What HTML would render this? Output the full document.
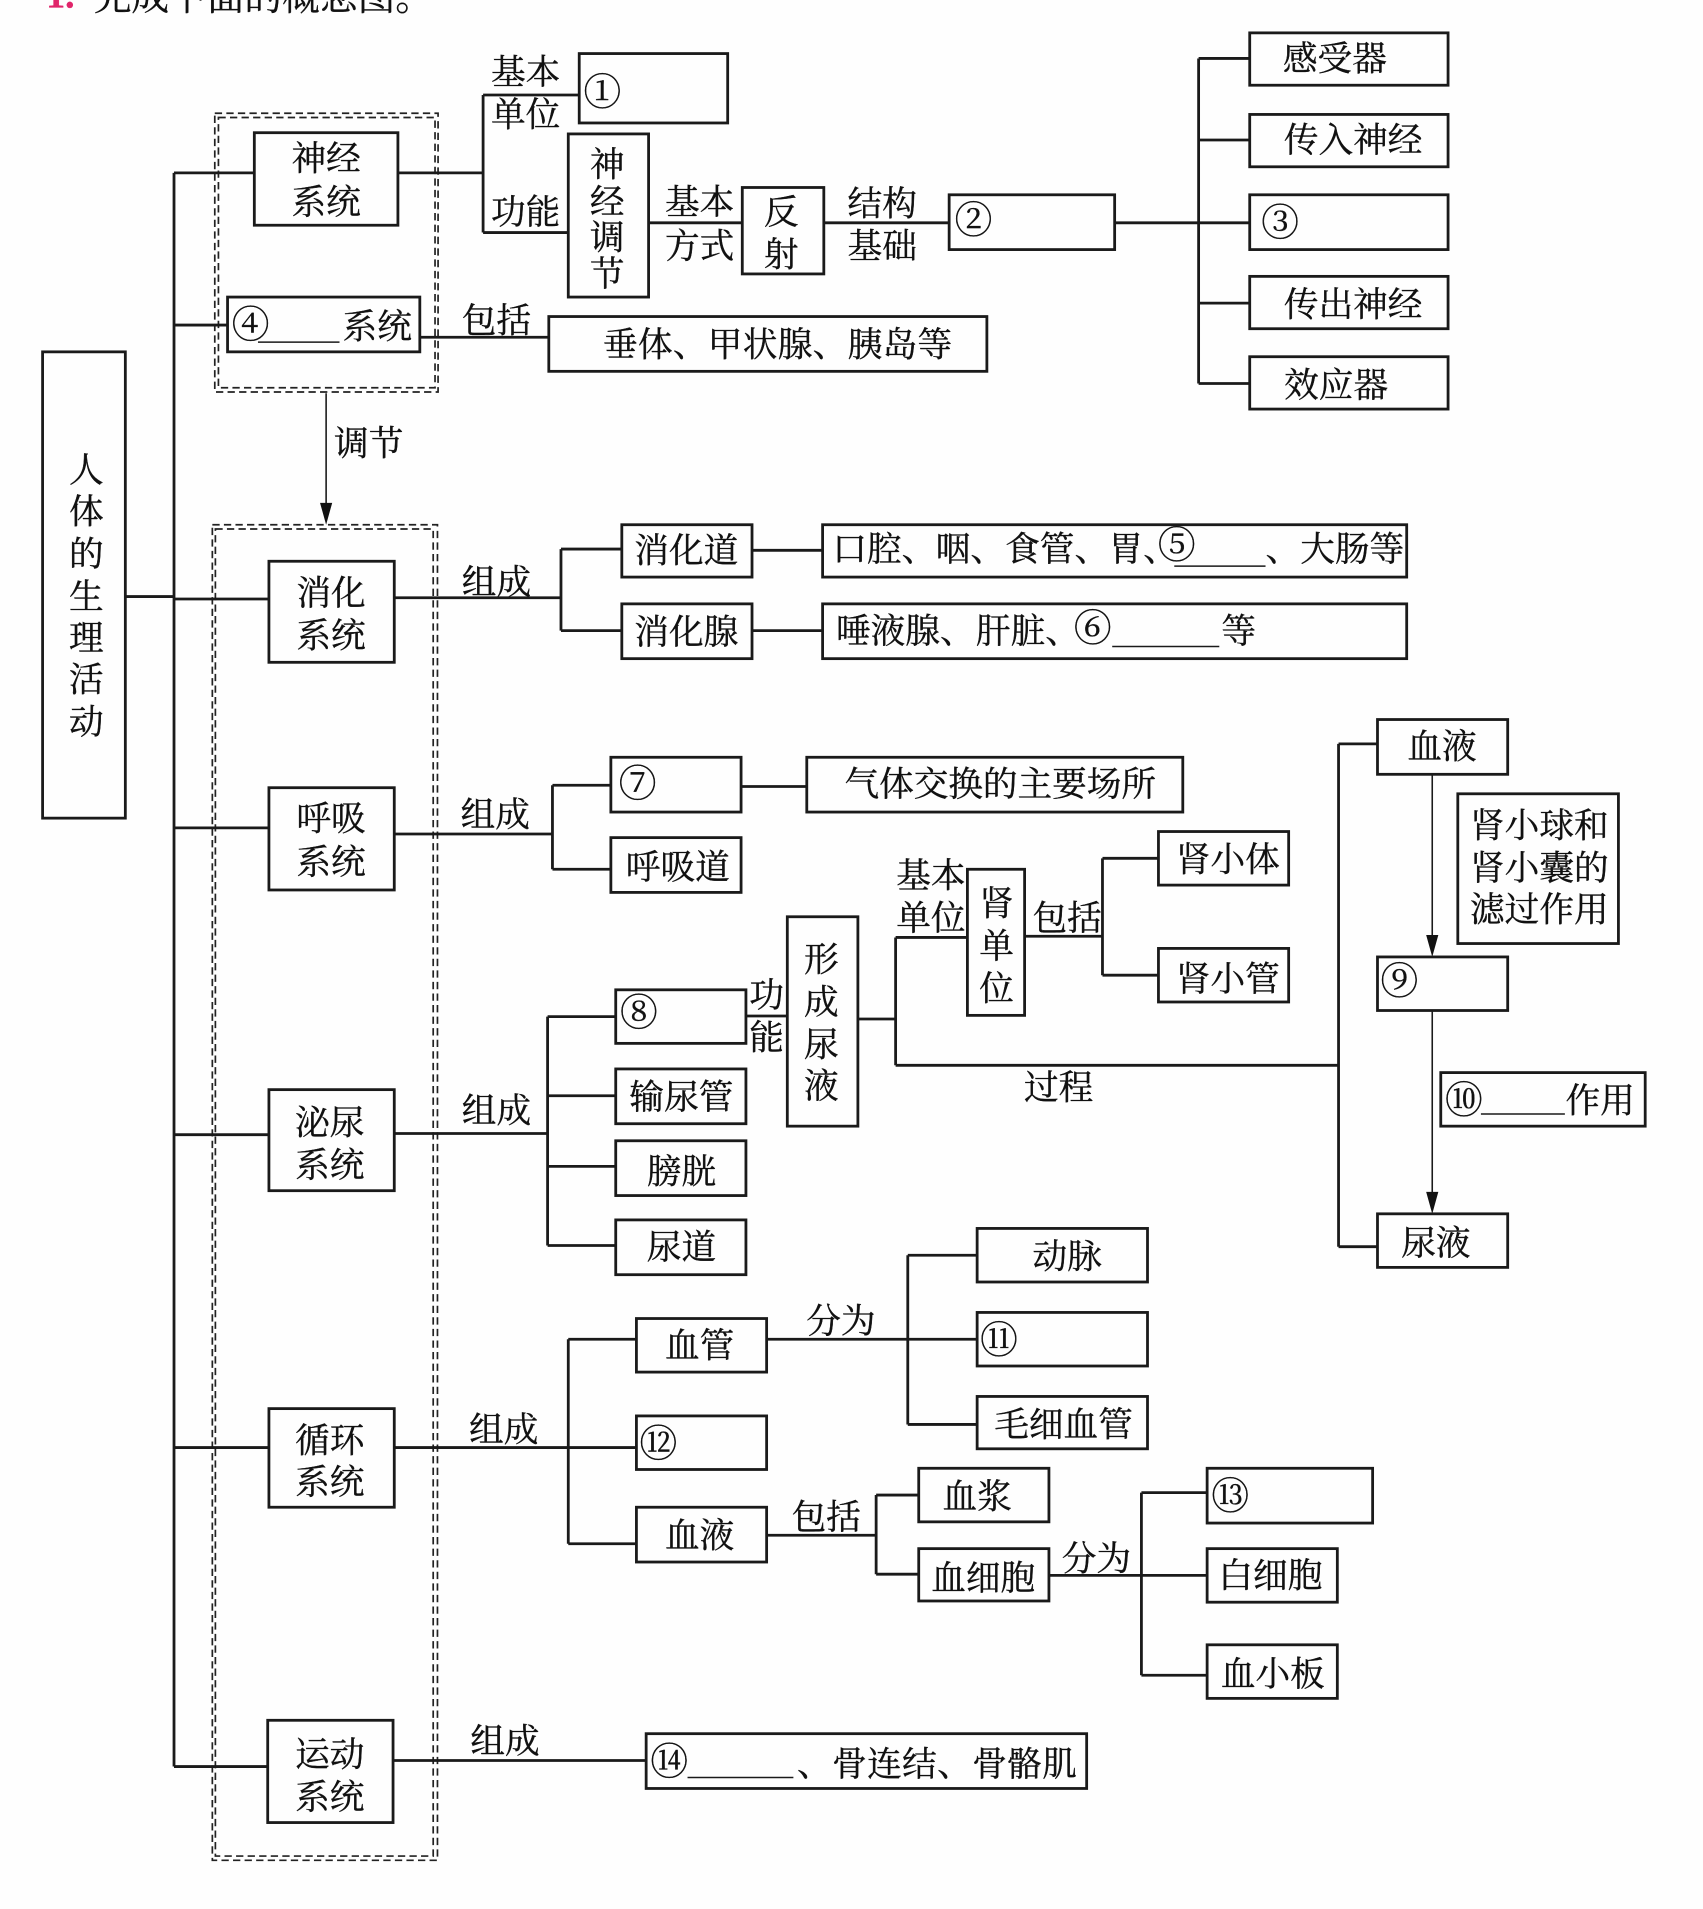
<!DOCTYPE html>
<html lang="zh"><head><meta charset="utf-8"><title>人体的生理活动</title>
<style>
html,body{margin:0;padding:0;background:#fefefe;width:1703px;height:1909px;overflow:hidden}
svg{display:block}
.b{fill:#fefefe;stroke:#1a1a1a;stroke-width:2.3}
.l{stroke:#1a1a1a;stroke-width:2.3;fill:none}
.t{stroke:#1a1a1a;stroke-width:1.3;fill:none}
.d{fill:none;stroke:#222;stroke-width:1.4;stroke-dasharray:6 3.5}
text{font-family:"Liberation Serif","Noto Serif CJK SC",serif;font-size:28.5px;fill:#111;stroke:#111;stroke-width:.3;text-anchor:middle;dominant-baseline:central;transform:translateY(1.5px)}
.s{text-anchor:start}
.c{font-size:31px}
</style></head><body>
<svg width="1703" height="1909" viewBox="0 0 1399.5 1568" preserveAspectRatio="none" xmlns="http://www.w3.org/2000/svg">
<text class="s" x="38" y="-5" style="fill:#e0256a;stroke:#e0256a;font-size:31px;font-weight:bold">1.</text>
<text class="s" x="77" y="-3" style="font-size:31px">完成下面的概念图。</text>

<!-- dashed -->
<rect class="d" x="176.5" y="93" width="183.5" height="229"/><rect class="d" x="179.5" y="96.5" width="178" height="222"/>
<rect class="d" x="174.5" y="431" width="185" height="1097"/><rect class="d" x="177" y="434.5" width="179" height="1090"/>

<!-- connectors -->
<path class="l" d="M103 490H143M143 142V1451M143 142H209M143 267H187M143 492H221M143 680H221M143 932H221M143 1189H221M143 1451H220"/>
<path class="l" d="M327 142H397M397 78V191M397 78H476M397 191H467M533 183H610M677 183H780M916 183H1027M985 48V315M985 48H1027M985 115H1027M985 249H1027M985 315H1027M345 277H451"/>
<path class="l" d="M324 491H461M461 451V518M461 451H511M461 518H511M618 452H676M618 518H676"/>
<path class="l" d="M324 685H454M454 645V714M454 645H502M454 714H502M609 646H663"/>
<path class="l" d="M324 931H450M450 835V1023M450 835H506M450 900H506M450 958H506M450 1023H506M613 834.5H647M705 837H736M736 770V875M736 770H795M842 769H906M906 705V801M906 705H952M906 801H952M736 875H1100M1100 611V1024M1100 611H1132M1100 1024H1132"/>
<path class="l" d="M324 1189H523M467 1100V1268M467 1100H523M467 1268H523M630 1100H803M746 1031V1170M746 1031H803M746 1170H803M630 1261H720M720 1228V1293M720 1228H755M720 1293H755M862 1294H992M938 1226V1376M938 1226H992M938 1376H992"/>
<path class="l" d="M323 1446H531"/>

<!-- arrows -->
<path class="t" d="M268 323V420M1177 636V775M1177 830V986"/>
<path d="M268 431l-5-18h10zM1177 786l-5-18h10zM1177 997l-5-18h10z" fill="#111"/>

<!-- boxes -->
<rect class="b" x="35" y="289" width="68" height="383"/>
<rect class="b" x="209" y="109" width="118" height="76"/>
<rect class="b" x="187" y="244" width="158" height="45"/>
<rect class="b" x="476" y="44" width="122" height="57"/>
<rect class="b" x="467" y="110" width="66" height="134"/>
<rect class="b" x="610" y="154" width="67" height="71"/>
<rect class="b" x="780" y="160" width="136" height="45"/>
<rect class="b" x="1027" y="27" width="163" height="43"/>
<rect class="b" x="1027" y="94" width="163" height="43"/>
<rect class="b" x="1027" y="160" width="163" height="45"/>
<rect class="b" x="1027" y="227" width="163" height="43"/>
<rect class="b" x="1027" y="293" width="163" height="43"/>
<rect class="b" x="451" y="260" width="360" height="45"/>
<rect class="b" x="221" y="461" width="103" height="83"/>
<rect class="b" x="511" y="431" width="107" height="43"/>
<rect class="b" x="511" y="496" width="107" height="45"/>
<rect class="b" x="676" y="431" width="480" height="43"/>
<rect class="b" x="676" y="496" width="480" height="45"/>
<rect class="b" x="221" y="647" width="103" height="84"/>
<rect class="b" x="502" y="622" width="107" height="45"/>
<rect class="b" x="663" y="622" width="309" height="45"/>
<rect class="b" x="502" y="688" width="107" height="45"/>
<rect class="b" x="221" y="895" width="103" height="83"/>
<rect class="b" x="506" y="813" width="107" height="44"/>
<rect class="b" x="506" y="878" width="107" height="45"/>
<rect class="b" x="506" y="937" width="107" height="45"/>
<rect class="b" x="506" y="1002" width="107" height="45"/>
<rect class="b" x="647" y="753" width="58" height="172"/>
<rect class="b" x="795" y="714" width="47" height="120"/>
<rect class="b" x="952" y="683" width="107" height="44"/>
<rect class="b" x="952" y="779" width="107" height="44"/>
<rect class="b" x="1132" y="591" width="107" height="45"/>
<rect class="b" x="1198" y="652" width="132" height="123"/>
<rect class="b" x="1132" y="786" width="107" height="44"/>
<rect class="b" x="1184" y="881" width="168" height="44"/>
<rect class="b" x="1132" y="997" width="107" height="44"/>
<rect class="b" x="221" y="1157" width="103" height="81"/>
<rect class="b" x="523" y="1083" width="107" height="44"/>
<rect class="b" x="523" y="1163" width="107" height="44"/>
<rect class="b" x="523" y="1238" width="107" height="45"/>
<rect class="b" x="803" y="1009" width="140" height="44"/>
<rect class="b" x="803" y="1078" width="140" height="44"/>
<rect class="b" x="803" y="1147" width="140" height="43"/>
<rect class="b" x="755" y="1206" width="107" height="44"/>
<rect class="b" x="755" y="1272" width="107" height="43"/>
<rect class="b" x="992" y="1206" width="136" height="45"/>
<rect class="b" x="992" y="1272" width="107" height="44"/>
<rect class="b" x="992" y="1351" width="107" height="44"/>
<rect class="b" x="220" y="1413" width="103" height="84"/>
<rect class="b" x="531" y="1424" width="362" height="45"/>

<!-- main vertical -->
<text x="71" y="385">人</text><text x="71" y="419">体</text><text x="71" y="454">的</text><text x="71" y="489">生</text><text x="71" y="523">理</text><text x="71" y="557">活</text><text x="71" y="592">动</text>

<text x="268" y="129">神经</text><text x="268" y="165">系统</text>
<text class="c" x="206" y="266">④</text><text x="310" y="267">系统</text>
<path class="t" d="M212 281H279"/>
<text x="432" y="58">基本</text><text x="432" y="93">单位</text><text x="432" y="173">功能</text>
<text class="c" x="495" y="75">①</text>
<text x="499" y="134">神</text><text x="499" y="165">经</text><text x="499" y="194">调</text><text x="499" y="224">节</text>
<text x="575" y="165">基本</text><text x="575" y="201">方式</text>
<text x="642" y="173">反</text><text x="642" y="208">射</text>
<text x="725" y="166">结构</text><text x="725" y="201">基础</text>
<text class="c" x="800" y="180">②</text>
<text x="1097" y="47">感受器</text><text x="1112" y="114">传入神经</text><text class="c" x="1052" y="182">③</text><text x="1112" y="249">传出神经</text><text x="1098" y="315">效应器</text>
<text x="408" y="262">包括</text>
<text x="639" y="282" textLength="287" lengthAdjust="spacing">垂体、甲状腺、胰岛等</text>
<text x="303" y="363">调节</text>

<text x="272" y="486">消化</text><text x="272" y="521">系统</text>
<text x="408" y="477">组成</text>
<text x="564" y="451">消化道</text><text x="564" y="518">消化腺</text>
<text class="s" x="684" y="450">口腔、</text><text class="s" x="769" y="450">咽、</text><text class="s" x="826" y="450">食管、</text><text class="s" x="911" y="450">胃、</text>
<text class="c" x="967" y="447">⑤</text><path class="t" d="M965 465H1040"/>
<text class="s" x="1040" y="450">、大肠等</text>
<text class="s" x="687" y="517">唾液腺、</text><text class="s" x="802" y="517">肝脏、</text>
<text class="c" x="898" y="515">⑥</text><path class="t" d="M914 531H1002"/>
<text x="1018" y="517">等</text>

<text x="272" y="671">呼吸</text><text x="272" y="707">系统</text>
<text x="407" y="668">组成</text>
<text class="c" x="524" y="643">⑦</text>
<text x="822" y="643" textLength="256" lengthAdjust="spacing">气体交换的主要场所</text>
<text x="557" y="711">呼吸道</text>

<text x="271" y="921">泌尿</text><text x="271" y="956">系统</text>
<text x="408" y="911">组成</text>
<text class="c" x="525" y="831">⑧</text>
<text x="560" y="900">输尿管</text><text x="560" y="961">膀胱</text><text x="560" y="1023">尿道</text>
<text x="630" y="816">功</text><text x="630" y="851">能</text>
<text x="675" y="787">形</text><text x="675" y="822">成</text><text x="675" y="857">尿</text><text x="675" y="891">液</text>
<text x="765" y="718">基本</text><text x="765" y="753">单位</text>
<text x="819" y="741">肾</text><text x="819" y="776">单</text><text x="819" y="811">位</text>
<text x="877" y="753">包括</text>
<text x="1009" y="705">肾小体</text><text x="1009" y="803">肾小管</text>
<text x="870" y="892">过程</text>
<text x="1185" y="612">血液</text>
<text x="1265" y="677">肾小球和</text><text x="1265" y="712">肾小囊的</text><text x="1265" y="746">滤过作用</text>
<text class="c" x="1150" y="805">⑨</text>
<text class="c" x="1203" y="903">⑩</text><path class="t" d="M1217 915H1286"/><text x="1315" y="903">作用</text>
<text x="1180" y="1020">尿液</text>

<text x="271" y="1182">循环</text><text x="271" y="1216">系统</text>
<text x="414" y="1173">组成</text>
<text x="575" y="1104">血管</text>
<text class="c" x="541" y="1185">⑫</text>
<text x="575" y="1260">血液</text>
<text x="691" y="1084">分为</text>
<text x="877" y="1031">动脉</text><text class="c" x="821" y="1100">⑪</text><text x="874" y="1169">毛细血管</text>
<text x="679" y="1245">包括</text>
<text x="803" y="1228">血浆</text><text x="808" y="1295">血细胞</text>
<text x="901" y="1279">分为</text>
<text class="c" x="1011" y="1228">⑬</text><text x="1044" y="1293">白细胞</text><text x="1046" y="1374">血小板</text>

<text x="271" y="1440">运动</text><text x="271" y="1475">系统</text>
<text x="415" y="1429">组成</text>
<text class="c" x="550" y="1446">⑭</text><path class="t" d="M565 1460H652"/>
<text class="s" x="655" y="1448" textLength="230" lengthAdjust="spacing">、骨连结、骨骼肌</text>
</svg>
</body></html>
